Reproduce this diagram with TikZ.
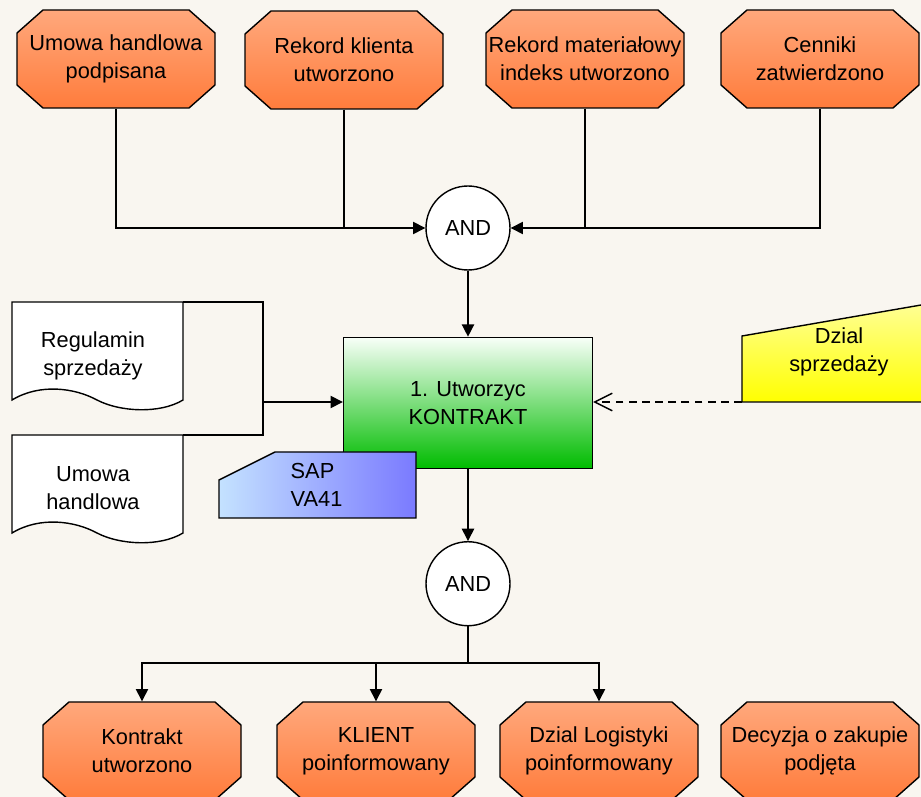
\documentclass[tikz,border=0pt]{standalone}
\usepackage{fontspec}
\setmainfont{Liberation Sans}
\usepackage{xcolor}
\usepackage{tikz}
\usetikzlibrary{positioning, arrows.meta, calc}

\definecolor{bgcol}{RGB}{249,246,240}
\definecolor{evtop}{RGB}{255,168,124}
\definecolor{evbot}{RGB}{255,124,60}
\definecolor{fntop}{RGB}{248,255,248}
\definecolor{fnbot}{RGB}{0,188,0}
\definecolor{saplt}{RGB}{196,226,255}
\definecolor{sapdk}{RGB}{122,122,255}
\definecolor{yltop}{RGB}{255,255,150}
\definecolor{ylbot}{RGB}{255,255,0}

\begin{document}
\begin{tikzpicture}[x=0.02cm, y=-0.02cm, line width=0.8pt,
  font=\fontsize{12.4}{15.9}\selectfont,
  event/.style={rectangle, minimum width=3.96cm, minimum height=1.96cm, inner sep=0pt, align=center},
  evshape/.style={draw, top color=evtop, bottom color=evbot},
  gate/.style={circle, draw, fill=white, minimum size=1.68cm, inner sep=0pt},
  func/.style={rectangle, draw, top color=fntop, bottom color=fnbot, minimum width=4.98cm,
    minimum height=2.62cm, align=center},
  arr/.style={-{Triangle[length=7pt, width=7pt]}},
  dasharr/.style={-{Straight Barb[length=10pt, width=10pt]}, dash pattern=on 4.5pt off 3pt}]

\path[use as bounding box, fill=bgcol] (0,0) rectangle (921,797);
\clip (0,0) rectangle (921,797);

% events (octagons)
\foreach \nm/\x/\y/\txt in {umowaPodp/116/59/{Umowa handlowa\\podpisana},
    klientRek/344/60/{Rekord klienta\\utworzono},
    materialRek/585/59/{Rekord materiałowy\\indeks utworzono},
    cenniki/820/59/{Cenniki\\zatwierdzono},
    kontraktUtw/142/751/{Kontrakt\\utworzono},
    klientInf/376/751/{KLIENT\\poinformowany},
    logistykaInf/599/751/{Dzial Logistyki\\poinformowany},
    decyzja/820/751/{Decyzja o zakupie\\podjęta}} {
  \draw[evshape] (\x-73,\y-49) -- (\x+73,\y-49) -- (\x+99,\y-26) -- (\x+99,\y+26)
    -- (\x+73,\y+49) -- (\x-73,\y+49) -- (\x-99,\y+26) -- (\x-99,\y-26) -- cycle;
  \node[event] (\nm) at (\x,\y) {\txt};
}

\node[gate] (and1) at (468,228) {AND};
\node[func, below=1.32cm of and1] (kontrakt) {1. Utworzyc\\KONTRAKT};
\node[gate, below=1.44cm of kontrakt] (and2) {AND};

\draw[arr] (umowaPodp.south) |- (and1.west);
\draw (klientRek.south) -- (klientRek |- and1.west);
\draw[arr] (cenniki.south) |- (and1.east);
\draw (materialRek.south) -- (materialRek |- and1.east);
\draw[arr] (and1) -- (kontrakt);

% documents
\foreach \y in {302,435}
  \draw[fill=white] (12,\y) -- (183,\y) -- (183,\y+98)
    .. controls (160,\y+112) and (120,\y+110) .. (97,\y+98)
    .. controls (75,\y+86) and (40,\y+81) .. (12,\y+98) -- cycle;
\node[align=center] (regulamin) at (93,356) {Regulamin\\sprzedaży};
\node[align=center] (umowa) at (93,488) {Umowa\\handlowa};
\draw (183,302) -- (263,302) -- (263,435) -- (183,435);
\coordinate (docs) at (263,402);
\draw[arr] (docs) -- (docs -| kontrakt.west);

% system
\draw[left color=saplt, right color=sapdk] (219,480) -- (275,452) -- (416,452) -- (416,518) -- (219,518) -- cycle;
\node[anchor=west, align=left, inner sep=0pt] (sap) at (290,485) {SAP\\VA41};

% unit
\draw[top color=yltop, bottom color=ylbot] (742,336) -- (935,302.6) -- (935,402) -- (742,402) -- cycle;
\node[align=center] (dzial) at (839,352) {Dzial\\sprzedaży};
\coordinate (dzialFoot) at (742,402);
\draw[dasharr] (dzialFoot) -- (dzialFoot -| kontrakt.east);

\draw[arr] (kontrakt) -- (and2);
\coordinate (fork) at (468,663);
\draw (and2) -- (fork);
\foreach \n in {kontraktUtw, klientInf, logistykaInf}
  \draw[arr] (fork) -| (\n);
\end{tikzpicture}
\end{document}
